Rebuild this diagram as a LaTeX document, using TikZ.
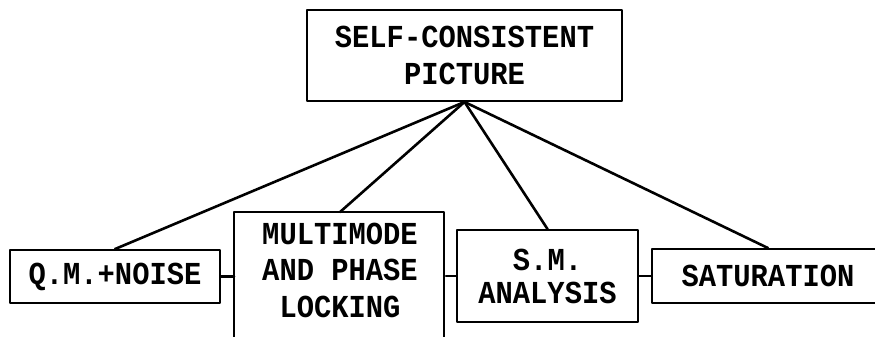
\documentclass[tikz,border=0pt]{standalone}
\usepackage{fontspec}
\newfontfamily\typefont[FakeStretch=0.9]{Liberation Mono}
\usetikzlibrary{positioning}

\begin{document}
\begin{tikzpicture}[line cap=round,line join=round,x=1pt,y=1pt,
  box/.style={draw,line width=1.9pt,align=center,inner sep=0pt,
    font=\typefont\bfseries\fontsize{32}{36.5}\selectfont},
  link/.style={line width=2.6pt}]
\useasboundingbox (0,0) rectangle (875,-337);
\clip (0,0) rectangle (875,-337);
%
\node[box,minimum width=315,minimum height=91] (top) at (464.5,-55.5)
  {SELF-CONSISTENT\\PICTURE};
%
\node[box,minimum width=210,minimum height=53] (qm) at (115,-276.5)
  {Q.M.+NOISE};
\node[box,draw=none,minimum width=210,minimum height=114] (mm) at (340,-270)
  {MULTIMODE\\AND PHASE\\LOCKING};
\draw[line width=1.9pt] (mm.north west) rectangle ++(210,-160);
\node[box,minimum width=181,minimum height=92,
  font=\typefont\bfseries\fontsize{32}{33}\selectfont] (sm) at (547.5,-276)
  {S.M.\\ANALYSIS};
\node[box,minimum width=232,minimum height=54] (sat) at (768,-276)
  {SATURATION};
%
\draw[link] (top.south) -- (qm.north);
\draw[link] (top.south) -- (mm.north);
\draw[link] (top.south) -- (sm.north);
\draw[link] (top.south) -- (sat.north);
%
\draw[link] (qm.east) -- (qm.east -| mm.west);
\draw[link] (sm.west -| mm.east) -- (sm.west);
\draw[link] (sm.east) -- (sat.west);
\end{tikzpicture}
\end{document}
